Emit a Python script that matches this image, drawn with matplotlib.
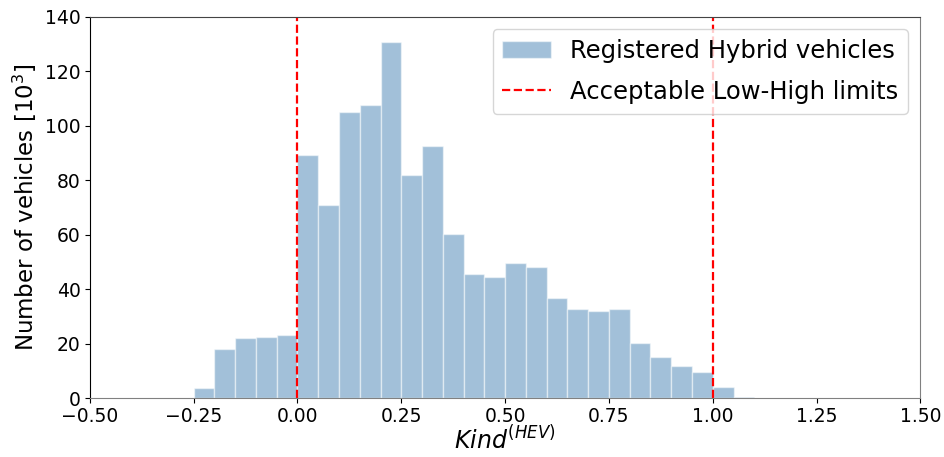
import numpy as np
import matplotlib
matplotlib.use("Agg")
import matplotlib.pyplot as plt

bin_edges = np.round(np.arange(-0.25, 1.2501, 0.05), 2)
counts = [3.8, 18.0, 22.0, 22.3, 23.1, 89.1, 70.8, 105.2, 107.7, 130.9, 82.1, 92.6,
          60.4, 45.5, 44.5, 49.6, 48.0, 36.7, 32.8, 32.0, 32.8, 20.3, 15.2, 11.7,
          9.7, 4.0, 0.5, 0.0, 0.1, 0.1]
limits = [0.0, 1.0]
xticks = [-0.5, -0.25, 0.0, 0.25, 0.5, 0.75, 1.0, 1.25, 1.5]
yticks = [0, 20, 40, 60, 80, 100, 120, 140]

fig = plt.figure(figsize=(9.45, 4.57), dpi=100)
ax = fig.add_axes([0.095, 0.129, 0.879, 0.834])

centers = (bin_edges[:-1] + bin_edges[1:]) / 2
ax.hist(centers, bins=bin_edges, weights=counts, color="steelblue", alpha=0.5,
        edgecolor="white", linewidth=1.0, label="Registered Hybrid vehicles")
for i, v in enumerate(limits):
    ax.axvline(v, color="red", linestyle="--", linewidth=1.6,
               label="Acceptable Low-High limits" if i == 0 else None)

ax.set_xlim(-0.5, 1.5)
ax.set_ylim(0, 140)
ax.set_xticks(xticks)
ax.set_xticklabels([f"{t:.2f}".replace("-", "\u2212") for t in xticks])
ax.set_yticks(yticks)
ax.tick_params(labelsize=13.5, pad=3)
ax.set_xlabel(r"$Kind^{(HEV)}$", fontsize=17, labelpad=0)
ax.set_ylabel(r"Number of vehicles [$10^3$]", fontsize=16.5, labelpad=4)

ax.spines["left"].set_color("black")
ax.spines["bottom"].set_color("grey")
ax.spines["right"].set_color("grey")
ax.spines["top"].set_color("#444444")

ax.legend(loc="upper right", fontsize=17.5, labelspacing=0.7)
fig.savefig("out.png", dpi=100)
